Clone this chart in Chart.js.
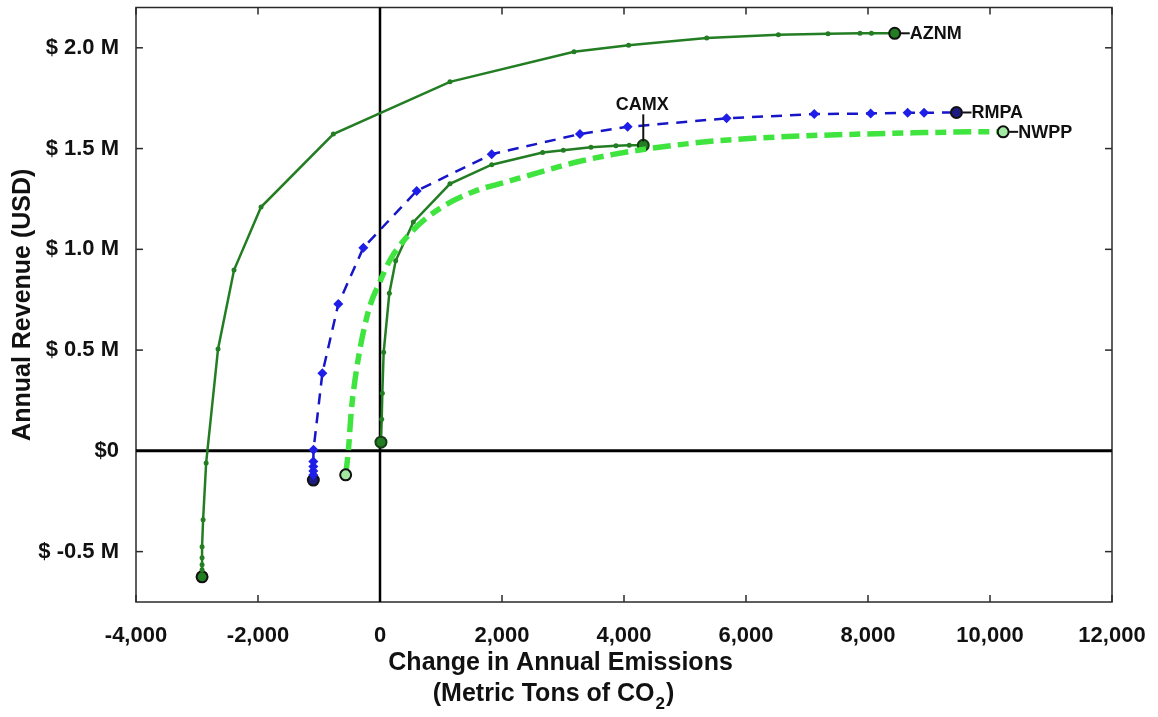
<!DOCTYPE html>
<html>
<head>
<meta charset="utf-8">
<script src="https://cdn.jsdelivr.net/npm/chart.js@4.4.1/dist/chart.umd.min.js"></script>
<style>
  html, body { margin: 0; padding: 0; background: #fff; }
  #wrap { width: 1158px; height: 717px; position: relative; }
</style>
</head>
<body>
<div id="wrap"><canvas id="revChart"></canvas></div>
<script>
/* ── Data (x: change in emissions, t CO2; y: annual revenue, $M) ── */
const aznmX = [-2917, -2917, -2917, -2917, -2917, -2900, -2850, -2655, -2393, -1950, -765, 1147, 3180, 4075, 5356, 6531, 7344, 7869, 8056, 8438];
const aznmY = [-0.625, -0.59, -0.565, -0.53, -0.476, -0.342, -0.06, 0.506, 0.897, 1.21, 1.572, 1.831, 1.98, 2.013, 2.049, 2.065, 2.07, 2.072, 2.072, 2.072];

const camxX = [16, 28, 38, 60, 153, 257, 546, 1147, 1831, 2666, 3005, 3458, 3868, 4086, 4316];
const camxY = [0.043, 0.157, 0.286, 0.489, 0.782, 0.943, 1.135, 1.325, 1.42, 1.48, 1.492, 1.506, 1.514, 1.516, 1.516];

const rmpaX = [-1093, -1093, -1093, -1093, -1093, -1090, -945, -683, -273, 601, 1831, 3278, 4059, 5681, 7119, 8044, 8650, 8919, 9450];
const rmpaY = [-0.145, -0.12, -0.1, -0.078, -0.053, 0.005, 0.385, 0.729, 1.008, 1.29, 1.472, 1.572, 1.608, 1.65, 1.671, 1.674, 1.678, 1.678, 1.679];

const nwppX = [-563, -519, -470, -410, -300, -164, 0, 164, 546, 983, 1530, 2077, 2732, 3278, 3824, 4371, 5463, 6556, 7649, 8741, 9834, 10216];
const nwppY = [-0.119, 0.0, 0.2, 0.352, 0.55, 0.72, 0.84, 0.947, 1.096, 1.203, 1.286, 1.335, 1.393, 1.437, 1.471, 1.498, 1.537, 1.558, 1.570, 1.578, 1.583, 1.583];

const xTicks = [-4000, -2000, 0, 2000, 4000, 6000, 8000, 10000, 12000];
const yTicks = [-0.5, 0, 0.5, 1.0, 1.5, 2.0];

const FONT = "'Liberation Sans', Arial, Helvetica, sans-serif";
const DARK_GREEN = '#237d23';

const toPts = (xs, ys) => xs.map((x, i) => ({ x, y: ys[i] }));
const isEnd = c => c.dataIndex === 0 || c.dataIndex === c.dataset.data.length - 1;

const fmtThousands = v => {
  const s = String(Math.abs(v)).replace(/\B(?=(\d{3})+(?!\d))/g, ',');
  return (v < 0 ? '-' : '') + s;
};

/* ── Frame, zero lines, inward ticks, labels, axis titles ── */
const framePlugin = {
  id: 'frame',
  beforeDatasetsDraw(chart) {
    const { ctx, chartArea: a, scales: { x, y } } = chart;
    const seg = (x1, y1, x2, y2) => { ctx.beginPath(); ctx.moveTo(x1, y1); ctx.lineTo(x2, y2); ctx.stroke(); };
    ctx.save();
    // box
    ctx.strokeStyle = '#2a2a2a';
    ctx.lineWidth = 1.5;
    ctx.strokeRect(a.left, a.top, a.width, a.height);
    // inward ticks on all four sides
    xTicks.forEach(v => {
      const px = x.getPixelForValue(v);
      seg(px, a.bottom, px, a.bottom - 7);
      seg(px, a.top, px, a.top + 7);
    });
    yTicks.forEach(v => {
      const py = y.getPixelForValue(v);
      seg(a.left, py, a.left + 7, py);
      seg(a.right, py, a.right - 7, py);
    });
    // zero lines
    ctx.strokeStyle = '#000';
    ctx.lineWidth = 3;
    const y0 = y.getPixelForValue(0);
    seg(a.left, y0, a.right, y0);
    ctx.lineWidth = 2.5;
    const x0 = x.getPixelForValue(0);
    seg(x0, a.top, x0, a.bottom);
    ctx.restore();
  },
  afterDraw(chart) {
    const { ctx, chartArea: a, scales: { x, y } } = chart;
    const seg = (x1, y1, x2, y2) => { ctx.beginPath(); ctx.moveTo(x1, y1); ctx.lineTo(x2, y2); ctx.stroke(); };
    ctx.save();
    ctx.fillStyle = '#111';
    ctx.strokeStyle = '#111';
    ctx.lineWidth = 2;

    // series end labels
    ctx.font = 'bold 18px ' + FONT;
    ctx.textBaseline = 'middle';
    ctx.textAlign = 'left';
    const endLabel = (xs, ys, text) => {
      const n = xs.length - 1;
      const px = x.getPixelForValue(xs[n]);
      const py = y.getPixelForValue(ys[n]);
      seg(px + 6, py, px + 15, py);
      ctx.fillText(text, px + 15, py + 1);
    };
    endLabel(aznmX, aznmY, 'AZNM');
    endLabel(rmpaX, rmpaY, 'RMPA');
    endLabel(nwppX, nwppY, 'NWPP');

    // CAMX: label above with vertical leader
    const cn = camxX.length - 1;
    const cx = x.getPixelForValue(camxX[cn]);
    const cy = y.getPixelForValue(camxY[cn]);
    seg(cx, cy - 4, cx, cy - 31);
    ctx.textAlign = 'center';
    ctx.fillText('CAMX', cx - 1, cy - 40);

    // y-axis title
    ctx.font = 'bold 25px ' + FONT;
    ctx.save();
    ctx.translate(23, (a.top + a.bottom) / 2);
    ctx.rotate(-Math.PI / 2);
    ctx.textAlign = 'center';
    ctx.fillText('Annual Revenue (USD)', 0, 0);
    ctx.restore();

    // x-axis title, two lines with subscript
    const tx = a.left + 0.435 * a.width;
    ctx.textAlign = 'center';
    ctx.fillText('Change in Annual Emissions', tx, a.bottom + 61);
    const partA = '(Metric Tons of CO', partB = '2', partC = ')';
    ctx.font = 'bold 25px ' + FONT;
    const wA = ctx.measureText(partA).width, wC = ctx.measureText(partC).width;
    ctx.font = 'bold 17px ' + FONT;
    const wB = ctx.measureText(partB).width;
    let sx = tx - 8 - (wA + wB + wC) / 2;
    const ly = a.bottom + 92;
    ctx.textAlign = 'left';
    ctx.font = 'bold 25px ' + FONT;
    ctx.fillText(partA, sx, ly);
    ctx.font = 'bold 17px ' + FONT;
    ctx.fillText(partB, sx + wA + 1, ly + 10);
    ctx.font = 'bold 25px ' + FONT;
    ctx.fillText(partC, sx + wA + wB + 2, ly);
    ctx.restore();
  }
};

/* ── Chart ── */
const revChart = new Chart(document.getElementById('revChart').getContext('2d'), {
  type: 'scatter',
  data: {
    datasets: [
      {
        label: 'NWPP',
        data: toPts(nwppX, nwppY),
        showLine: true,
        borderColor: '#3fe43f',
        borderWidth: 5.5,
        borderDash: [18, 7, 11, 7],
        cubicInterpolationMode: 'monotone',
        pointRadius: c => isEnd(c) ? 5.5 : 0,
        pointBackgroundColor: '#a2eaa2',
        pointBorderColor: '#111',
        pointBorderWidth: 2,
      },
      {
        label: 'RMPA',
        data: toPts(rmpaX, rmpaY),
        showLine: true,
        borderColor: '#1616c8',
        borderWidth: 2.5,
        borderDash: [11, 8],
        pointStyle: c => isEnd(c) ? 'circle' : 'rectRot',
        pointRadius: c => isEnd(c) ? 5.5 : 5,
        pointBackgroundColor: c => isEnd(c) ? '#1b1b80' : '#1e1ee8',
        pointBorderColor: c => isEnd(c) ? '#111' : '#1e1ee8',
        pointBorderWidth: c => isEnd(c) ? 2 : 0,
      },
      {
        label: 'CAMX',
        data: toPts(camxX, camxY),
        showLine: true,
        borderColor: DARK_GREEN,
        borderWidth: 2.5,
        pointRadius: c => isEnd(c) ? 5.5 : 2.5,
        pointBackgroundColor: DARK_GREEN,
        pointBorderColor: c => isEnd(c) ? '#163d16' : DARK_GREEN,
        pointBorderWidth: c => isEnd(c) ? 2 : 0,
      },
      {
        label: 'AZNM',
        data: toPts(aznmX, aznmY),
        showLine: true,
        borderColor: DARK_GREEN,
        borderWidth: 2.5,
        pointRadius: c => isEnd(c) ? 5.5 : 2.5,
        pointBackgroundColor: DARK_GREEN,
        pointBorderColor: c => isEnd(c) ? '#111' : DARK_GREEN,
        pointBorderWidth: c => isEnd(c) ? 2 : 0,
      },
    ],
  },
  options: {
    responsive: true,
    maintainAspectRatio: false,
    animation: false,
    layout: { padding: { top: 7, right: 46, left: 0, bottom: 0 } },
    plugins: {
      legend: { display: false },
      tooltip: { enabled: false },
    },
    scales: {
      x: {
        type: 'linear',
        min: -4000,
        max: 12000,
        grid: { display: false },
        border: { display: false },
        afterBuildTicks: s => { s.ticks = xTicks.map(v => ({ value: v })); },
        afterFit: s => { s.height = 115; s.paddingLeft = 0; s.paddingRight = 0; },
        ticks: {
          padding: 13,
          maxRotation: 0,
          autoSkip: false,
          color: '#111',
          font: { family: FONT, size: 22, weight: 'bold' },
          callback: v => fmtThousands(v),
        },
      },
      y: {
        type: 'linear',
        min: -0.75,
        max: 2.2,
        grid: { display: false },
        border: { display: false },
        afterBuildTicks: s => { s.ticks = yTicks.map(v => ({ value: v })); },
        afterFit: s => { s.width = 136; s.paddingTop = 0; s.paddingBottom = 0; },
        ticks: {
          padding: 9,
          autoSkip: false,
          color: '#111',
          font: { family: FONT, size: 22, weight: 'bold' },
          callback: v => v === 0 ? '$0' : '$ ' + v.toFixed(1) + ' M',
        },
      },
    },
  },
  plugins: [framePlugin],
});
</script>
</body>
</html>
